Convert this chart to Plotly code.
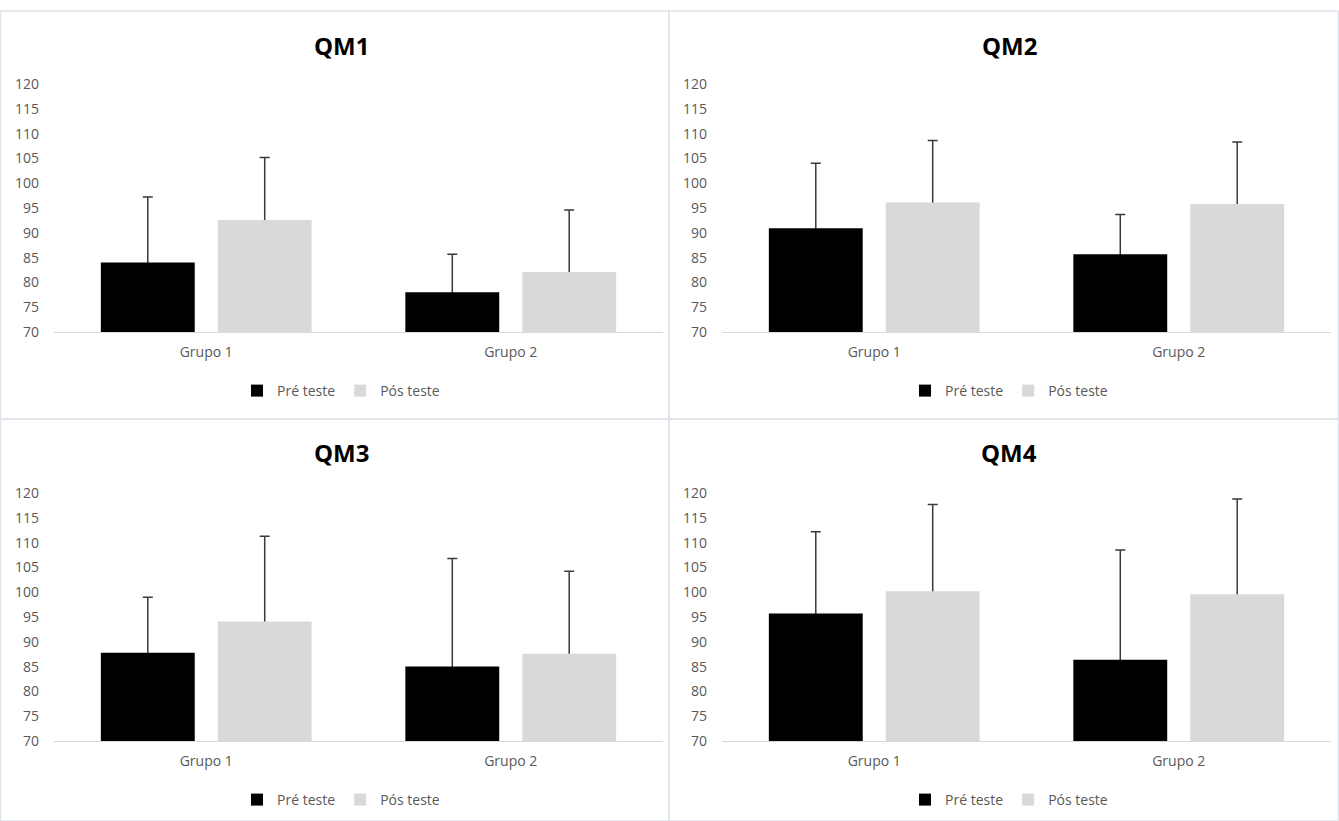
import plotly.graph_objects as go

# ---------------- data ----------------
groups = ["Grupo 1", "Grupo 2"]
panels = ["QM1", "QM2", "QM3", "QM4"]
series_names = ["Pré teste", "Pós teste"]

pre_mean = {"QM1": [84.0, 78.0], "QM2": [90.9, 85.7], "QM3": [87.8, 85.0], "QM4": [95.7, 86.4]}
pre_sd = {"QM1": [13.2, 7.7], "QM2": [13.1, 8.0], "QM3": [11.2, 21.8], "QM4": [16.5, 22.1]}
post_mean = {"QM1": [92.6, 82.1], "QM2": [96.1, 95.8], "QM3": [94.1, 87.6], "QM4": [100.2, 99.6]}
post_sd = {"QM1": [12.6, 12.5], "QM2": [12.5, 12.5], "QM3": [17.2, 16.6], "QM4": [17.5, 19.2]}

y_min, y_max, y_step = 70, 120, 5
y_ticks = list(range(y_min, y_max + 1, y_step))

# ---------------- layout geometry (pixels) ----------------
W, H = 1339, 821
FONT = "Open Sans"
TXT = "#595959"
BORDER = "#dfe3ea"
colors = ["#000000", "#d9d9d9"]

# plot areas: (x0, x1, ytop, ybottom)
areas = [(54, 663, 84, 332), (722, 1331, 84, 332),
         (54, 663, 493, 741), (722, 1331, 493, 741)]
title_pos = [(341, 46), (1009, 46), (341, 453), (1009, 453)]
legend_pos = [(341, 391), (1009, 391), (341, 800), (1009, 800)]
panel_boxes = [(0.5, 11, 669, 419), (669, 11, 1338.5, 419),
               (0.5, 419, 669, 821), (669, 419, 1338.5, 821)]


def px(x):
    return x / W


def py(y):
    return 1 - y / H


fig = go.Figure()
layout = dict(
    width=W, height=H, margin=dict(l=0, r=0, t=0, b=0, pad=0, autoexpand=False),
    paper_bgcolor="white", plot_bgcolor="white",
    font=dict(family=FONT, size=14, color=TXT),
    barmode="group", bargap=0.232, bargroupgap=0.197,
    showlegend=True, shapes=[], annotations=[],
)

for i, p in enumerate(panels):
    n = "" if i == 0 else str(i + 1)
    xa, ya = "x" + n, "y" + n
    leg = "legend" + n
    means = [pre_mean[p], post_mean[p]]
    sds = [pre_sd[p], post_sd[p]]
    # error bars first (transparent bars), so the real bars drawn after hide their lower part
    for s in range(2):
        fig.add_trace(go.Bar(
            x=groups, y=means[s], name=series_names[s], offsetgroup=str(s),
            marker=dict(color="rgba(0,0,0,0)", line=dict(width=0)),
            error_y=dict(type="data", symmetric=False, array=sds[s],
                         arrayminus=[m - y_min for m in means[s]],
                         color="#3a3a3a", thickness=1.5, width=5),
            xaxis=xa, yaxis=ya, legend=leg, showlegend=False, hoverinfo="skip",
        ))
    for s in range(2):
        fig.add_trace(go.Bar(
            x=groups, y=means[s], name=series_names[s], offsetgroup=str(s),
            marker=dict(color=colors[s], line=dict(width=0)),
            xaxis=xa, yaxis=ya, legend=leg,
        ))
    x0, x1, yt, yb = areas[i]
    layout["xaxis" + n] = dict(
        domain=[px(x0), px(x1)], anchor=ya, showline=True, linecolor="#d9d9d9",
        linewidth=1.3, ticks="", showgrid=False, zeroline=False, automargin=False,
        ticklabelstandoff=7, tickfont=dict(size=14, color=TXT, family=FONT),
        fixedrange=True,
    )
    layout["yaxis" + n] = dict(
        domain=[py(yb), py(yt)], anchor=xa, range=[y_min, y_max], tickvals=y_ticks,
        showline=False, showgrid=False, zeroline=False, ticks="", automargin=False,
        ticklabelstandoff=14, tickfont=dict(size=14, color=TXT, family=FONT),
        fixedrange=True,
    )
    lx, ly = legend_pos[i]
    layout[leg] = dict(
        orientation="h", x=px(lx), y=py(ly), xanchor="center", yanchor="middle",
        font=dict(size=14, color=TXT, family=FONT), itemwidth=30,
        bgcolor="rgba(0,0,0,0)", traceorder="normal",
    )
    tx, ty = title_pos[i]
    layout["annotations"].append(dict(
        text="<b>" + p + "</b>", x=px(tx), y=py(ty), xref="paper", yref="paper",
        showarrow=False, xanchor="center", yanchor="middle",
        font=dict(size=24, color="#000000", family=FONT),
    ))
    bx0, by0, bx1, by1 = panel_boxes[i]
    layout["shapes"].append(dict(
        type="rect", xref="paper", yref="paper",
        x0=px(bx0), x1=px(bx1), y0=py(by1), y1=py(by0),
        line=dict(color=BORDER, width=1.5), fillcolor="rgba(0,0,0,0)", layer="below",
    ))

fig.update_layout(**layout)
fig.write_html("out.html", config={"displayModeBar": False},
               post_script="document.body.style.margin='0';document.body.style.overflow='hidden';")
